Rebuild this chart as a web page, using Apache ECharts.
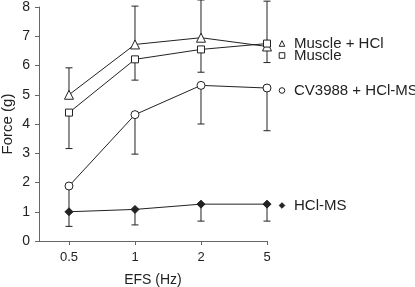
<!DOCTYPE html>
<html lang="en">
<head>
<meta charset="UTF-8">
<title>Force vs EFS</title>
<script src="https://cdn.jsdelivr.net/npm/echarts@6/dist/echarts.min.js"></script>
<style>
  html, body { margin: 0; padding: 0; background: #fff; }
  #main { width: 415px; height: 287px; }
</style>
</head>
<body>
<div id="main"></div>
<script>
// frequencies (Hz) on the x axis
const categories = ['0.5', '1', '2', '5'];
// mean force (g)
const muscleHcl = [5.0, 6.72, 6.95, 6.65];
const muscle = [4.39, 6.21, 6.55, 6.75];
const cv3988 = [1.88, 4.32, 5.32, 5.23];
const hclMs = [1.0, 1.08, 1.26, 1.26];
// one-sided error bar ends
const muscleHclUpper = [5.92, 8.03, 8.24, 8.2];
const muscleLower = [3.16, 5.5, 5.77, 6.1];
const cv3988Lower = [1.0, 2.97, 4.0, 3.77];
const hclMsLower = [0.5, 0.55, 0.68, 0.68];

const FONT = 'Liberation Sans';
const INK = '#222';

let myChart = echarts.init(document.getElementById('main'));

function pts(arr) {
    return arr.map((v, i) => [i, v]);
}
function bars(mean, end) {
    return mean.map((v, i) => [i, v, end[i]]);
}

function errorBar(params, api) {
    let p0 = api.coord([api.value(0), api.value(1)]);
    let p1 = api.coord([api.value(0), api.value(2)]);
    let cap = 3.5;
    let style = { stroke: INK, lineWidth: 1 };
    return {
        type: 'group',
        children: [
            { type: 'line', shape: { x1: p0[0], y1: p0[1], x2: p1[0], y2: p1[1] }, style: style },
            { type: 'line', shape: { x1: p1[0] - cap, y1: p1[1], x2: p1[0] + cap, y2: p1[1] }, style: style }
        ]
    };
}

function lineSeries(name, data, symbol, size, filled) {
    return {
        name: name,
        type: 'line',
        data: pts(data),
        symbol: symbol,
        symbolSize: size,
        z: 5,
        lineStyle: { color: INK, width: 1 },
        itemStyle: { color: filled ? INK : '#fff', borderColor: INK, borderWidth: 1 },
        emphasis: { disabled: true },
        animation: false
    };
}

function barSeries(mean, end) {
    return {
        type: 'custom',
        data: bars(mean, end),
        renderItem: errorBar,
        clip: false,
        z: 2,
        silent: true,
        animation: false
    };
}

function legendAt(name, top, filled) {
    return {
        data: [name],
        left: 275,
        top: top,
        orient: 'vertical',
        padding: 0,
        itemWidth: 14,
        itemHeight: 7,
        selectedMode: false,
        itemStyle: { color: filled ? INK : '#fff', borderColor: INK, borderWidth: 1 },
        lineStyle: { width: 0 },
        textStyle: { fontFamily: FONT, fontSize: 15, lineHeight: 15, color: INK }
    };
}

let option = {
    backgroundColor: '#fff',
    animation: false,
    grid: { left: 39, right: 148, top: 7, bottom: 46, outerBoundsMode: 'none' },
    legend: [
        legendAt('Muscle + HCl', 36, false),
        legendAt('Muscle', 48, false),
        legendAt('CV3988 + HCl-MS', 83, false),
        legendAt('HCl-MS', 198, true)
    ],
    xAxis: {
        type: 'value',
        min: -0.4545,
        max: 3,
        name: 'EFS (Hz)',
        nameLocation: 'middle',
        nameGap: 32,
        nameMoveOverlap: false,
        nameTextStyle: { fontFamily: FONT, fontSize: 14, color: INK },
        axisLine: { lineStyle: { color: '#666' } },
        axisTick: { length: 4, customValues: [0, 1, 2, 3], lineStyle: { color: '#666' } },
        axisLabel: {
            customValues: [0, 1, 2, 3],
            formatter: v => categories[Math.round(v)],
            fontFamily: FONT, fontSize: 13, color: INK, margin: 10
        },
        splitLine: { show: false }
    },
    yAxis: {
        type: 'value',
        min: 0,
        max: 8,
        interval: 1,
        name: 'Force (g)',
        nameLocation: 'middle',
        nameGap: 24,
        nameMoveOverlap: false,
        nameTextStyle: { fontFamily: FONT, fontSize: 15, color: INK },
        axisLine: { show: true, onZero: false, lineStyle: { color: '#666' } },
        axisTick: { show: true, length: 4, lineStyle: { color: '#666' } },
        axisLabel: { fontFamily: FONT, fontSize: 14, color: INK, margin: 9 },
        splitLine: { show: false }
    },
    series: [
        barSeries(muscleHcl, muscleHclUpper),
        barSeries(muscle, muscleLower),
        barSeries(cv3988, cv3988Lower),
        barSeries(hclMs, hclMsLower),
        lineSeries('Muscle + HCl', muscleHcl, 'triangle', 9, false),
        lineSeries('Muscle', muscle, 'rect', 7, false),
        lineSeries('CV3988 + HCl-MS', cv3988, 'circle', 8, false),
        lineSeries('HCl-MS', hclMs, 'diamond', 8, true)
    ]
};

myChart.setOption(option);
</script>
</body>
</html>
